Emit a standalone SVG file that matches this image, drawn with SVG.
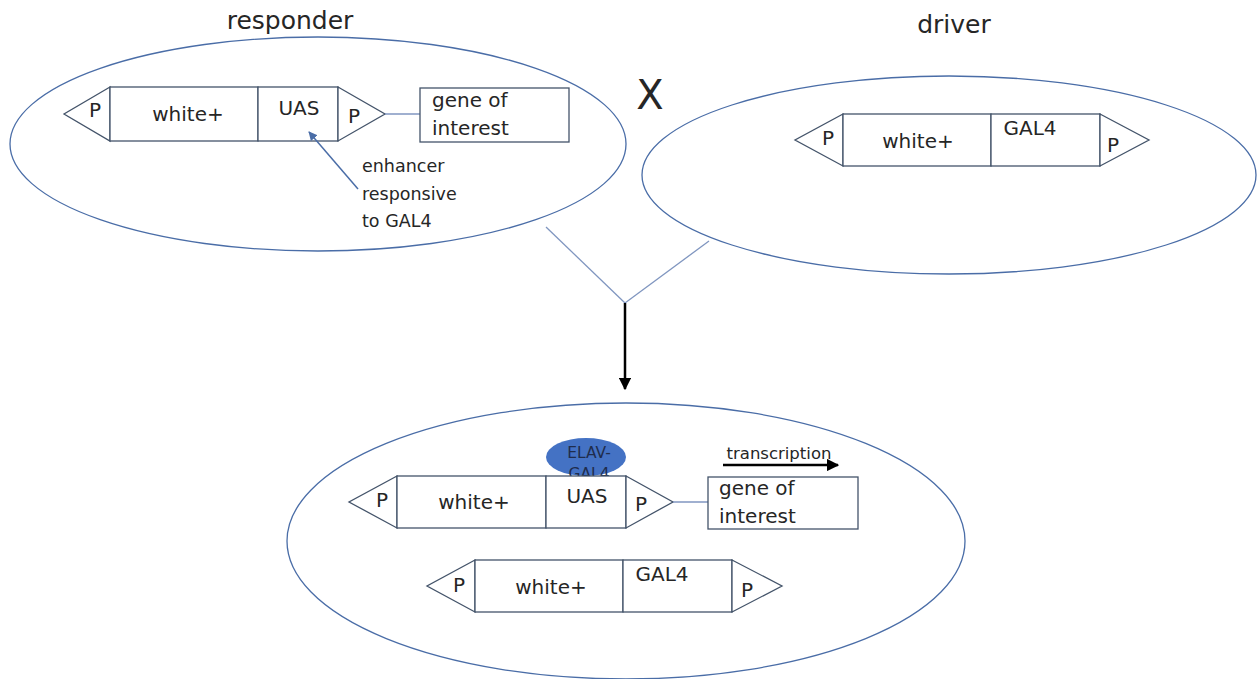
<svg xmlns="http://www.w3.org/2000/svg" width="1257" height="679" viewBox="0 0 1257 679">
  <defs>
    <style>
      .cell { fill: #ffffff; stroke: #44546a; stroke-width: 1.3; }
      .oval { fill: none; stroke: #4a6da7; stroke-width: 1.3; }
      .link { fill: none; stroke: #8096c0; stroke-width: 1.3; }
      .lbl { font-family: "DejaVu Sans", "Liberation Sans", sans-serif; fill: #262626; }
      .big { font-size: 20px; }
      .mid { font-size: 17.5px; }
      .sm { font-size: 16.5px; }
      .title { font-size: 25px; }
      .tag { font-size: 15.5px; fill: #1f2d4d; }
    </style>
    <marker id="blackHead" viewBox="0 0 10 10" refX="9" refY="5" markerWidth="5" markerHeight="5" orient="auto">
      <path d="M0,0 L10,5 L0,10 z" fill="#000"/>
    </marker>
    <marker id="blueHead" viewBox="0 0 10 10" refX="9" refY="5" markerWidth="6" markerHeight="6" orient="auto">
      <path d="M0,0 L10,5 L0,10 z" fill="#4a6da7"/>
    </marker>
  </defs>

  <rect width="1257" height="679" fill="#ffffff"/>

  <!-- responder cell -->
  <g id="responder">
    <ellipse class="oval" cx="318" cy="144" rx="308" ry="107"/>
    <text class="lbl title" x="290" y="29" text-anchor="middle">responder</text>
    <polygon class="cell" points="110,87 64,114 110,141"/>
    <rect class="cell" x="110" y="87" width="148" height="54"/>
    <rect class="cell" x="258" y="87" width="80" height="54"/>
    <polygon class="cell" points="338,87 385,114 338,141"/>
    <text class="lbl big" x="95" y="117" text-anchor="middle">P</text>
    <text class="lbl big" x="188" y="121" text-anchor="middle">white+</text>
    <text class="lbl big" x="299" y="115" text-anchor="middle">UAS</text>
    <text class="lbl big" x="354" y="123" text-anchor="middle">P</text>
    <line class="link" x1="385" y1="114" x2="420" y2="114"/>
    <rect class="cell" x="420" y="88" width="149" height="54"/>
    <text class="lbl big" x="432" y="107">gene of</text>
    <text class="lbl big" x="432" y="135">interest</text>
  </g>

  <!-- driver cell -->
  <g id="driver">
    <ellipse class="oval" cx="949" cy="175" rx="307" ry="99"/>
    <text class="lbl title" x="954" y="33" text-anchor="middle">driver</text>
    <polygon class="cell" points="843,114 795,140 843,166"/>
    <rect class="cell" x="843" y="114" width="148" height="52"/>
    <rect class="cell" x="991" y="114" width="109" height="52"/>
    <polygon class="cell" points="1100,114 1149,140 1100,166"/>
    <text class="lbl big" x="828" y="145" text-anchor="middle">P</text>
    <text class="lbl big" x="918" y="148" text-anchor="middle">white+</text>
    <text class="lbl big" x="1030" y="135" text-anchor="middle">GAL4</text>
    <text class="lbl big" x="1113" y="152" text-anchor="middle">P</text>
  </g>

  <!-- cross symbol -->
  <g id="cross">
    <text class="lbl" x="650" y="109" text-anchor="middle" font-size="40" fill="#000">X</text>
  </g>

  <!-- annotation on the enhancer -->
  <g id="enhancer-note">
    <text class="lbl mid" x="362" y="172">enhancer</text>
    <text class="lbl mid" x="362" y="200">responsive</text>
    <text class="lbl mid" x="362" y="227">to GAL4</text>
  </g>

  <!-- progeny cell -->
  <g id="progeny">
    <ellipse class="oval" cx="626" cy="541" rx="339" ry="138"/>
    <!-- ELAV-GAL4 bound to UAS; the construct box drawn next covers its lower edge -->
    <ellipse cx="586" cy="457" rx="40" ry="19" fill="#4472c4"/>
    <text class="lbl tag" x="589" y="458" text-anchor="middle">ELAV-</text>
    <text class="lbl tag" x="589" y="479" text-anchor="middle">GAL4</text>

    <polygon class="cell" points="397,476 349,502 397,528"/>
    <rect class="cell" x="397" y="476" width="149" height="52"/>
    <rect class="cell" x="546" y="476" width="80" height="52"/>
    <polygon class="cell" points="626,476 673,502 626,528"/>
    <text class="lbl big" x="382" y="507" text-anchor="middle">P</text>
    <text class="lbl big" x="474" y="509" text-anchor="middle">white+</text>
    <text class="lbl big" x="587" y="503" text-anchor="middle">UAS</text>
    <text class="lbl big" x="641" y="511" text-anchor="middle">P</text>
    <line class="link" x1="673" y1="502" x2="708" y2="502"/>
    <rect class="cell" x="708" y="477" width="150" height="52"/>
    <text class="lbl big" x="719" y="495">gene of</text>
    <text class="lbl big" x="719" y="523">interest</text>
    <text class="lbl sm" x="779" y="459" text-anchor="middle" fill="#000">transcription</text>

    <polygon class="cell" points="475,560 427,586 475,612"/>
    <rect class="cell" x="475" y="560" width="148" height="52"/>
    <rect class="cell" x="623" y="560" width="109" height="52"/>
    <polygon class="cell" points="732,560 782,586 732,612"/>
    <text class="lbl big" x="459" y="592" text-anchor="middle">P</text>
    <text class="lbl big" x="551" y="594" text-anchor="middle">white+</text>
    <text class="lbl big" x="662" y="581" text-anchor="middle">GAL4</text>
    <text class="lbl big" x="747" y="597" text-anchor="middle">P</text>
  </g>

  <!-- connectors -->
  <g id="connectors">
    <line x1="358" y1="189" x2="309" y2="132" stroke="#4a6da7" stroke-width="1.5" marker-end="url(#blueHead)"/>
    <line class="link" x1="546" y1="227" x2="625" y2="303"/>
    <line class="link" x1="709" y1="241" x2="625" y2="303"/>
    <line x1="625" y1="303" x2="625" y2="389" stroke="#000" stroke-width="2.5" marker-end="url(#blackHead)"/>
    <line x1="723" y1="465" x2="838" y2="465" stroke="#000" stroke-width="2.5" marker-end="url(#blackHead)"/>
  </g>
</svg>
